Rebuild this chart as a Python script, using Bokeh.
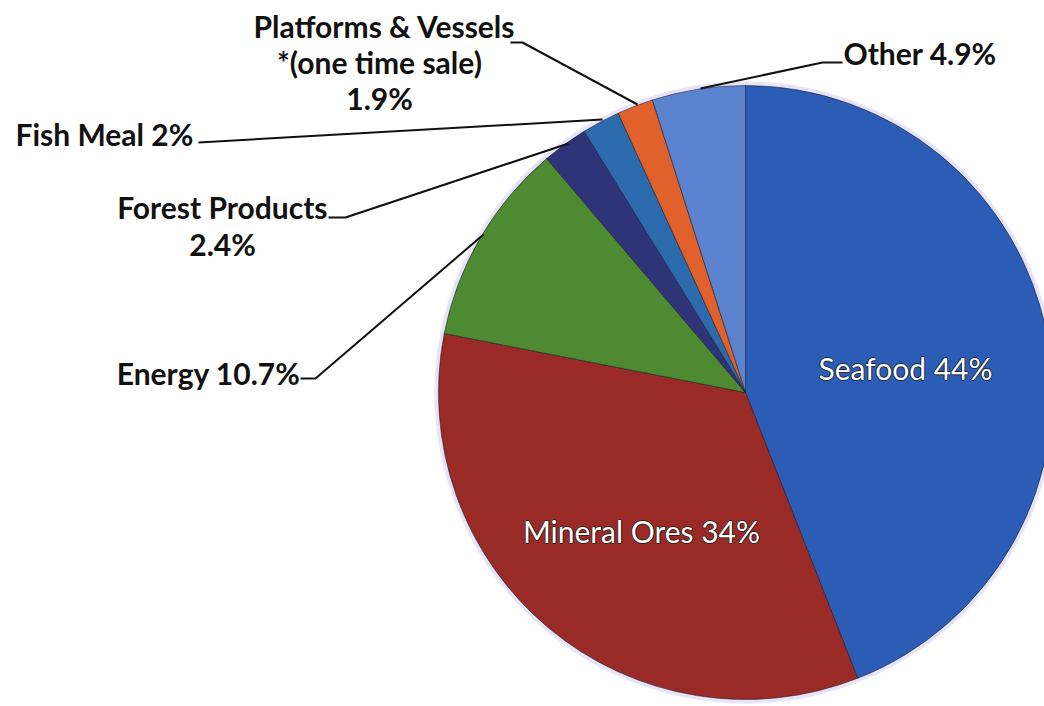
import math
from bokeh.plotting import figure
from bokeh.models import Range1d, ColumnDataSource
from bokeh.core.properties import value
from bokeh.embed import file_html
from bokeh.resources import INLINE

# ---- data ----
categories = ["Seafood", "Mineral Ores", "Energy", "Forest Products",
              "Fish Meal", "Platforms & Vessels", "Other"]
shares = [44.0, 34.0, 10.7, 2.4, 2.0, 1.9, 4.9]
colors = ["#2C5DB6", "#9A2A25", "#4E8A31", "#2F3478", "#2B6BAE", "#E0612B", "#5B83CF"]
inside_labels = ["Seafood 44%", "Mineral Ores 34%"]
outside_labels = ["Platforms & Vessels", "*(one time sale)", "1.9%", "Fish Meal 2%",
                  "Forest Products", "2.4%", "Energy 10.7%", "Other 4.9%"]

W, H = 1044, 706
p = figure(width=W, height=H, output_backend="svg", toolbar_location=None,
           x_range=Range1d(0, W), y_range=Range1d(-H, 0),
           min_border=0)
p.axis.visible = False
p.grid.visible = False
p.outline_line_color = None
p.background_fill_color = "white"

cx, cy, r = 745, -392, 307

total = sum(shares)
starts, ends = [], []
acc = 0.0
for s in shares:
    a0 = math.pi / 2 - acc / total * 2 * math.pi
    acc += s
    a1 = math.pi / 2 - acc / total * 2 * math.pi
    starts.append(a0)
    ends.append(a1)

src = ColumnDataSource(dict(cat=categories, share=shares, color=colors,
                            start=starts, end=ends))

# soft halo around the pie
p.circle(x=[cx], y=[cy], radius=r + 4, fill_color="#D4CEF2", fill_alpha=0.55,
         line_color=None)
p.wedge(x=cx, y=cy, radius=r, start_angle="start", end_angle="end",
        direction="clock", fill_color="color", line_color="#1a1a2a",
        line_width=0.8, line_alpha=0.7, source=src)

# inside labels: dark halo then white text
ix = [905, 641]
iy = [-367, -530]
for dx, dy in [(-1, 0), (1, 0), (0, -1), (0, 1)]:
    p.text(x=[v + dx for v in ix], y=[v + dy for v in iy], text=inside_labels,
           text_font=value("Lato"), text_font_size="30px", text_color="#1a1a1a",
           text_alpha=0.8, text_align="center", text_baseline="middle")
p.text(x=ix, y=iy, text=inside_labels,
       text_font=value("Lato"), text_font_size="30px", text_color="white",
       text_align="center", text_baseline="middle")

# leader lines
def path(pts):
    p.line(x=[a for a, b in pts], y=[-b for a, b in pts], line_color="#111111",
           line_width=2)

path([(510, 42), (522, 42), (637, 104)])
path([(198, 142), (602, 119)])
path([(328, 217), (345, 217), (568, 143)])
path([(300, 378), (315, 378), (483, 234)])
path([(700, 88), (822, 62), (842, 62)])

# outside labels
bx = [384, 379, 379, 15, 327, 222, 300, 843]
by = [25, 61, 97, 133, 206, 243, 372, 52]
al = ["center", "center", "center", "left", "right", "center", "right", "left"]
p.text(x=bx, y=[-v for v in by], text=outside_labels, text_align=al,
       text_font=value("Lato"), text_font_style="bold", text_font_size="30px",
       text_color="#111111", text_baseline="middle")

open("out.html", "w").write(file_html(p, INLINE))
